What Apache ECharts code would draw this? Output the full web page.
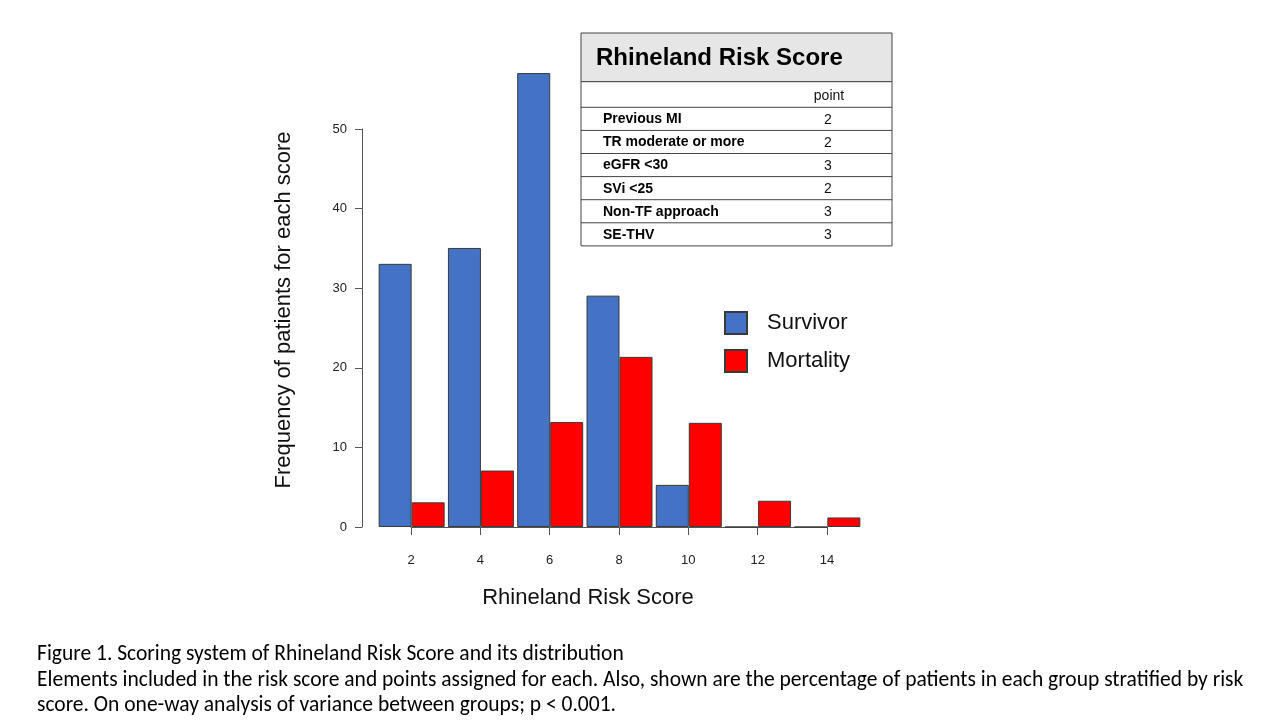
<!DOCTYPE html>
<html>
<head>
<meta charset="utf-8">
<script src="https://cdn.jsdelivr.net/npm/echarts@6/dist/echarts.min.js"></script>
<style>
html,body{margin:0;padding:0;background:#fff;}
#chart{width:1280px;height:720px;}
</style>
</head>
<body>
<div id="chart"></div>
<script>
// ---- data ----
const scores = ['2', '4', '6', '8', '10', '12', '14'];
const survivor = [33.1, 35.1, 57.1, 29.1, 5.3, 0, 0];
const mortality = [3.1, 7.1, 13.2, 21.4, 13.1, 3.3, 1.2];
const yTicks = [0, 10, 20, 30, 40, 50];
const tableTitle = 'Rhineland Risk Score';
const tableItems = ['Previous MI', 'TR moderate or more', 'eGFR <30', 'SVi <25', 'Non-TF approach', 'SE-THV'];
const tablePoints = [2, 2, 3, 2, 3, 3];
const captionLines = [
  'Figure 1. Scoring system of Rhineland Risk Score and its distribution',
  'Elements included in the risk score and points assigned for each. Also, shown are the percentage of patients in each group stratified by risk',
  'score. On one-way analysis of variance between groups; p < 0.001.'
];

const chart = echarts.init(document.getElementById('chart'));
const FONT = '"Liberation Sans", Arial, sans-serif';
const CAPFONT = 'Carlito, "Liberation Sans Narrow", "Liberation Sans", sans-serif';
const axisColor = '#555';

// table graphics
const tX = 581, tW = 311, tTop = 33, headH = 48.7, pointH = 25.6, rowH = 23.1;
const tableEls = [];
tableEls.push({type:'rect', shape:{x:tX, y:tTop, width:tW, height:headH}, style:{fill:'#E7E6E6', stroke:'#444', lineWidth:1}});
tableEls.push({type:'text', x:tX+15, y:tTop+headH/2+1, style:{text:tableTitle, font:'bold 24px '+FONT, fill:'#000', verticalAlign:'middle'}});
tableEls.push({type:'rect', shape:{x:tX, y:tTop+headH, width:tW, height:pointH + rowH*tableItems.length}, style:{fill:'#fff', stroke:'#444', lineWidth:1}});
tableEls.push({type:'text', x:829, y:tTop+headH+pointH/2+1.5, style:{text:'point', font:'14px '+FONT, fill:'#111', align:'center', verticalAlign:'middle'}});
tableItems.forEach((item, i) => {
  const y0 = tTop + headH + pointH + rowH*i;
  tableEls.push({type:'line', shape:{x1:tX, y1:y0, x2:tX+tW, y2:y0}, style:{stroke:'#444', lineWidth:1}});
  tableEls.push({type:'text', x:603, y:y0+rowH/2+0.5, style:{text:item, font:'bold 14px '+FONT, fill:'#000', verticalAlign:'middle'}});
  tableEls.push({type:'text', x:828, y:y0+rowH/2+1, style:{text:String(tablePoints[i]), font:'14px '+FONT, fill:'#111', align:'center', verticalAlign:'middle'}});
});

const captionEls = captionLines.map((t, i) => ({
  type:'text', x:37, y:655 + i*25.5,
  style:{text:t, font:'21.5px '+CAPFONT, fill:'#000', verticalAlign:'middle'}
}));

const option = {
  backgroundColor:'#fff',
  animation:false,
  grid:[
    {left:377, right:418, top:50, bottom:193},
    {left:411, right:453, top:129, bottom:193}
  ],
  xAxis:[
    {gridIndex:0, type:'category', data:scores, show:false},
    {gridIndex:1, type:'value', min:2, max:14, interval:2, offset:5,
     axisLine:{show:true, lineStyle:{color:axisColor, width:1}},
     axisTick:{show:true, length:8, lineStyle:{color:axisColor}},
     axisLabel:{fontSize:13, color:'#222', fontFamily:FONT, margin:22},
     splitLine:{show:false}}
  ],
  yAxis:[
    {gridIndex:0, type:'value', min:0, max:60, show:false},
    {gridIndex:1, type:'value', min:yTicks[0], max:yTicks[yTicks.length-1], interval:10, offset:49,
     axisLine:{show:true, lineStyle:{color:axisColor, width:1}},
     axisTick:{show:true, length:7, lineStyle:{color:axisColor}},
     axisLabel:{fontSize:13, color:'#222', fontFamily:FONT, margin:15},
     splitLine:{show:false}}
  ],
  legend:{
    data:['Survivor','Mortality'], orient:'vertical', left:724, top:311, padding:0,
    itemWidth:22, itemHeight:22, itemGap:14, icon:'rect',
    textStyle:{fontSize:22, color:'#111', fontFamily:FONT, lineHeight:22, padding:[0,0,0,15]}
  },
  series:[
    {name:'Survivor', type:'bar', xAxisIndex:0, yAxisIndex:0, data:survivor, barWidth:33, barGap:'0%',
     itemStyle:{color:'#4472C4', borderColor:'#3a3a3a', borderWidth:1}},
    {name:'Mortality', type:'bar', xAxisIndex:0, yAxisIndex:0, data:mortality, barWidth:33, barGap:'0%',
     itemStyle:{color:'#FF0000', borderColor:'#3a3a3a', borderWidth:1}},
    {type:'scatter', xAxisIndex:1, yAxisIndex:1, data:[], silent:true}
  ],
  graphic:[
    {type:'text', x:284, y:310, rotation:Math.PI/2,
     style:{text:'Frequency of patients for each score', font:'22px '+FONT, fill:'#111', align:'center', verticalAlign:'middle'}},
    {type:'text', x:588, y:598,
     style:{text:'Rhineland Risk Score', font:'22px '+FONT, fill:'#111', align:'center', verticalAlign:'middle'}},
    ...tableEls,
    ...captionEls
  ]
};
chart.setOption(option);
</script>
</body>
</html>
